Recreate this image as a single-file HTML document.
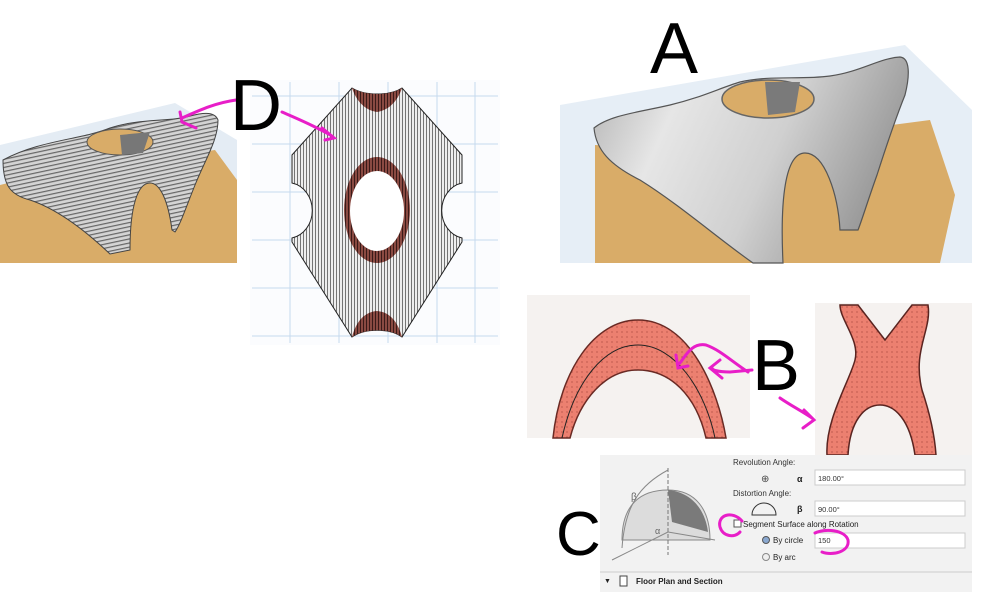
<!DOCTYPE html>
<html><head><meta charset="utf-8"><style>
html,body{margin:0;padding:0;background:#fff;}
svg{display:block;}
text{font-family:"Liberation Sans",sans-serif;}
</style></head><body>
<svg width="999" height="594" viewBox="0 0 999 594" xmlns="http://www.w3.org/2000/svg">
<defs>
<pattern id="hlines" width="6" height="4" patternUnits="userSpaceOnUse" patternTransform="rotate(-12)">
<rect width="6" height="4" fill="#d4d4d4"/><rect width="6" height="1.2" fill="#666"/></pattern>
<pattern id="vlines" width="3" height="6" patternUnits="userSpaceOnUse">
<rect width="3" height="6" fill="#eeeeee"/><rect width="0.8" height="6" fill="#555"/></pattern>
<pattern id="dots" width="5" height="5" patternUnits="userSpaceOnUse">
<rect width="5" height="5" fill="#ec8070"/><circle cx="2" cy="2" r="0.6" fill="#a04038"/></pattern>
<pattern id="brown" width="3" height="3" patternUnits="userSpaceOnUse">
<rect width="3" height="3" fill="#8a4a42"/><rect width="1" height="3" fill="#3a1a18"/></pattern>
<linearGradient id="gA" x1="0" y1="0" x2="1" y2="0.3">
<stop offset="0" stop-color="#b0b0b0"/><stop offset="0.3" stop-color="#e6e6e6"/><stop offset="0.65" stop-color="#d0d0d0"/><stop offset="1" stop-color="#9a9a9a"/></linearGradient>
</defs>

<!-- D left panel -->
<polygon points="0,145 175,103 237,140 237,263 0,263" fill="#e4ecf4"/>
<polygon points="0,185 40,175 215,150 237,180 237,263 0,263" fill="#d9ac68"/>
<path d="M3,160 C40,140 80,140 110,128 C140,118 170,122 190,116 C205,112 215,112 218,120 C218,140 205,160 195,185 C185,210 180,225 175,232 L172,230 C168,200 160,183 150,183 C138,183 130,205 130,250 L110,254 C90,235 60,210 30,200 C10,195 3,185 3,160 Z" fill="url(#hlines)" stroke="#444" stroke-width="1"/>
<ellipse cx="120" cy="142" rx="33" ry="13" fill="#d9ac68" stroke="#555"/>
<path d="M120,135 L150,132 L143,153 L122,155 Z" fill="#777"/>

<!-- D right plan -->
<rect x="250" y="80" width="250" height="265" fill="#fbfcfe"/>
<g stroke="#c6daee" stroke-width="1">
<line x1="290" y1="82" x2="290" y2="343"/><line x1="339" y1="82" x2="339" y2="343"/><line x1="388" y1="82" x2="388" y2="343"/><line x1="437" y1="82" x2="437" y2="343"/><line x1="475" y1="82" x2="475" y2="343"/>
<line x1="252" y1="96" x2="498" y2="96"/><line x1="252" y1="144" x2="498" y2="144"/><line x1="252" y1="192" x2="498" y2="192"/><line x1="252" y1="240" x2="498" y2="240"/><line x1="252" y1="288" x2="498" y2="288"/><line x1="252" y1="336" x2="498" y2="336"/>
</g>
<path d="M352,88 C365,96 390,96 402,88 L462,155 L462,183 A25,28 0 0 0 462,238 L462,242 L402,337 C390,328 365,328 352,337 L292,242 L292,238 A25,28 0 0 0 292,183 L292,155 Z" fill="url(#vlines)" stroke="#222" stroke-width="1"/>
<path d="M352,88 C365,96 390,96 402,88 C398,100 390,110 377,112 C364,110 356,100 352,88 Z" fill="url(#brown)"/>
<path d="M352,337 C365,328 390,328 402,337 C398,322 390,312 377,311 C364,312 356,322 352,337 Z" fill="url(#brown)"/>
<ellipse cx="377" cy="210" rx="33" ry="53" fill="url(#brown)"/>
<ellipse cx="377" cy="211" rx="27" ry="40" fill="#fff"/>

<!-- A panel -->
<polygon points="560,105 905,45 972,110 972,263 560,263" fill="#e6eef6"/>
<polygon points="595,145 700,150 930,120 955,195 940,263 595,263" fill="#d9ac68"/>
<path d="M594,128 C610,115 640,112 670,105 C700,98 720,88 740,82 C770,75 800,80 830,76 C860,72 880,58 900,57 C910,58 910,75 905,95 C895,120 885,150 877,175 C868,200 862,220 858,230 L840,230 C838,195 825,153 805,153 C785,153 780,200 783,263 L753,263 C720,240 680,205 640,180 C610,165 596,150 594,128 Z" fill="url(#gA)" stroke="#555" stroke-width="1.2"/>
<ellipse cx="768" cy="99" rx="46" ry="19" fill="#d9ac68" stroke="#666" stroke-width="1.5"/>
<path d="M765,82 L800,82 L795,112 L768,115 Z" fill="#7a7a7a"/>

<!-- B left -->
<rect x="527" y="295" width="223" height="143" fill="#f5f2f0"/>
<path d="M553,438 C560,370 595,320 638,320 C690,320 718,390 726,438 L706,438 C696,395 670,370 638,370 C605,370 580,400 570,438 Z" fill="url(#dots)" stroke="#6a2a24" stroke-width="1.5"/>
<path d="M562,438 C575,380 605,345 638,345 C675,345 705,390 715,438" fill="none" stroke="#222" stroke-width="1"/>
<!-- B right -->
<rect x="815" y="303" width="157" height="152" fill="#f5f2f0"/>
<path d="M840,305 L858,305 L885,340 L912,305 L928,305 C932,330 912,350 922,390 C932,420 935,440 936,455 L915,455 C910,420 895,405 880,405 C865,405 850,420 848,455 L827,455 C825,420 850,380 855,360 C860,340 840,320 840,305 Z" fill="url(#dots)" stroke="#5a2420" stroke-width="1.5"/>

<!-- C panel -->
<rect x="600" y="455" width="372" height="137" fill="#f2f2f2"/>
<path d="M622,540 C622,505 640,490 668,490 C696,490 710,510 710,540 Z" fill="#dcdcdc" stroke="#888"/>
<path d="M668,490 C690,492 705,508 708,532 L672,522 Z" fill="#7a7a7a"/>
<line x1="668" y1="468" x2="668" y2="555" stroke="#777" stroke-dasharray="4,2"/>
<line x1="612" y1="560" x2="668" y2="532" stroke="#888"/><line x1="668" y1="532" x2="715" y2="540" stroke="#888"/>
<path d="M622,548 C625,505 640,485 668,470" fill="none" stroke="#888"/>
<text x="631" y="500" font-size="10" fill="#666">β</text>
<text x="655" y="534" font-size="9" fill="#666">α</text>
<text x="733" y="465" font-size="8" fill="#333">Revolution Angle:</text>
<text x="761" y="482" font-size="10" fill="#444">⊕</text>
<text x="797" y="482" font-size="9" font-weight="bold" fill="#222">α</text>
<rect x="815" y="470" width="150" height="15" fill="#fff" stroke="#ccc"/>
<text x="818" y="481" font-size="7.5" fill="#333">180.00°</text>
<text x="733" y="496" font-size="8" fill="#333">Distortion Angle:</text>
<path d="M752,515 A12,12 0 0 1 776,515 Z" fill="none" stroke="#333"/>
<text x="797" y="512" font-size="9" font-weight="bold" fill="#222">β</text>
<rect x="815" y="501" width="150" height="15" fill="#fff" stroke="#ccc"/>
<text x="818" y="512" font-size="7.5" fill="#333">90.00°</text>
<rect x="734" y="520" width="7" height="7" fill="#fff" stroke="#555"/>
<text x="743" y="527" font-size="8" fill="#222">Segment Surface along Rotation</text>
<circle cx="766" cy="540" r="3.5" fill="#8aa8d0" stroke="#555"/>
<text x="773" y="543" font-size="8" fill="#222">By circle</text>
<rect x="815" y="533" width="150" height="15" fill="#fff" stroke="#ccc"/>
<text x="818" y="543" font-size="7.5" fill="#333">150</text>
<circle cx="766" cy="557" r="3.5" fill="#eee" stroke="#888"/>
<text x="773" y="560" font-size="8" fill="#222">By arc</text>
<line x1="600" y1="572" x2="972" y2="572" stroke="#ccc"/>
<text x="604" y="583" font-size="7" fill="#222">▼</text>
<rect x="620" y="576" width="7" height="10" fill="#fff" stroke="#444"/>
<text x="636" y="584" font-size="8" font-weight="bold" fill="#222">Floor Plan and Section</text>

<!-- magenta marks -->
<g fill="none" stroke="#e81ec8" stroke-width="3" stroke-linecap="round">
<path d="M236,100 C215,103 200,110 182,118 M180,112 L182,122 L196,128"/>
<path d="M282,112 C300,120 315,126 332,136 M322,128 L334,138 L325,140"/>
<path d="M748,372 C730,360 720,350 706,345 C690,342 684,360 678,365 M676,355 L678,368 L688,366"/>
<path d="M752,370 L730,372 C718,372 712,370 712,368 M720,360 L710,368 L722,378"/>
<path d="M780,398 C790,405 800,410 812,418 M804,410 L814,420 L803,428"/>
<path d="M742,521 C732,510 717,515 720,527 C723,537 735,538 740,532"/>
<path d="M815,533 C825,528 845,530 848,540 C850,552 832,556 822,552"/>
</g>

<!-- letters -->
<text x="650" y="73" font-size="72" fill="#000">A</text>
<text x="230" y="130" font-size="72" fill="#000">D</text>
<text x="752" y="390" font-size="72" fill="#000">B</text>
<text x="556" y="555" font-size="62" fill="#000">C</text>
</svg>
</body></html>
